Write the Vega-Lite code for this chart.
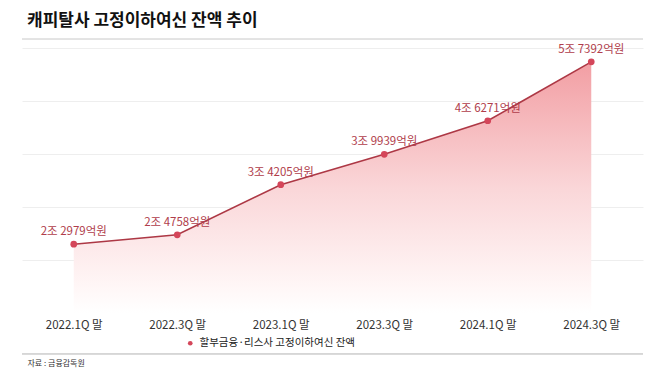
{
  "$schema": "https://vega.github.io/schema/vega-lite/v6.json",
  "width": 621,
  "height": 265,
  "autosize": "none",
  "padding": {"left": 22, "top": 48, "right": 15, "bottom": 57},
  "background": "white",
  "config": {"font": "Noto Sans CJK KR", "view": {"stroke": null}},
  "title": {"text": "캐피탈사 고정이하여신 잔액 추이", "anchor": "start", "frame": "group", "dx": 5, "offset": 8, "fontSize": 17, "fontWeight": "bold", "color": "#111111"},
  "data": {"values": [
    {"quarter": "2022.1Q 말", "value": 22979, "label": "2조 2979억원", "series": "할부금융·리스사 고정이하여신 잔액"},
    {"quarter": "2022.3Q 말", "value": 24758, "label": "2조 4758억원", "series": "할부금융·리스사 고정이하여신 잔액"},
    {"quarter": "2023.1Q 말", "value": 34205, "label": "3조 4205억원", "series": "할부금융·리스사 고정이하여신 잔액"},
    {"quarter": "2023.3Q 말", "value": 39939, "label": "3조 9939억원", "series": "할부금융·리스사 고정이하여신 잔액"},
    {"quarter": "2024.1Q 말", "value": 46271, "label": "4조 6271억원", "series": "할부금융·리스사 고정이하여신 잔액"},
    {"quarter": "2024.3Q 말", "value": 57392, "label": "5조 7392억원", "series": "할부금융·리스사 고정이하여신 잔액"}
  ]},
  "encoding": {
    "x": {"field": "quarter", "type": "ordinal", "sort": null, "scale": {"type": "point", "padding": 0.5},
      "axis": {"title": "자료 : 금융감독원", "titleFontSize": 8, "titleFontWeight": "normal", "titleColor": "#333333", "titleAnchor": "start", "titleAlign": "left", "titleBaseline": "middle", "titleX": 5, "titleY": 50, "labelAngle": 0, "labelFontSize": 11.5, "labelColor": "#333333", "labelPadding": 6, "ticks": false, "domain": false, "grid": false}},
    "y": {"field": "value", "type": "quantitative", "scale": {"domain": [10000, 60000], "nice": false, "zero": false},
      "axis": {"values": [20000, 30000, 40000, 50000, 60000], "labels": false, "ticks": false, "domain": false, "title": null, "gridColor": "#eeeeee", "gridWidth": 1}}
  },
  "layer": [
    {"mark": {"type": "area", "fill": {"gradient": "linear", "x1": 0, "y1": 0, "x2": 0, "y2": 1, "stops": [{"offset": 0, "color": "#f29ea3"}, {"offset": 0.5, "color": "#fad6d8"}, {"offset": 0.9, "color": "#fff7f7"}, {"offset": 1, "color": "#ffffff"}]}},
     "encoding": {"y2": {"datum": 10000}}},
    {"mark": {"type": "line", "color": "#ad3845", "strokeWidth": 1.6}},
    {"mark": {"type": "point", "filled": true, "size": 45, "opacity": 1},
     "encoding": {"color": {"field": "series", "type": "nominal", "scale": {"range": ["#d4465a"]},
       "legend": {"title": null, "orient": "none", "legendX": 163, "legendY": 290, "symbolType": "circle", "symbolSize": 22, "labelFontSize": 10.5, "labelColor": "#222222", "labelLimit": 0, "symbolOpacity": 1}}}},
    {"mark": {"type": "text", "dy": -12, "fontSize": 11.5, "color": "#b03d4b", "baseline": "middle"},
     "encoding": {"text": {"field": "label"}}},
    {"mark": {"type": "rule", "color": "#e3e3e3", "strokeWidth": 1},
     "encoding": {"y": {"datum": 61700}, "x": null}},
    {"mark": {"type": "rule", "color": "#d6d6d6", "strokeWidth": 1},
     "encoding": {"y": {"datum": 2300}, "x": null}}
  ]
}
